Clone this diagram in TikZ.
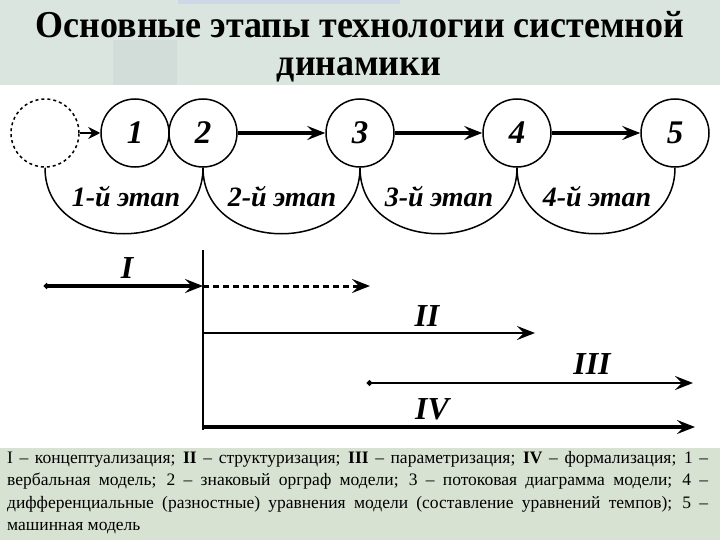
\documentclass[tikz,border=0pt]{standalone}
\usepackage{fontspec}
\setmainfont{Liberation Serif}
\usetikzlibrary{arrows.meta}
\definecolor{topbg}{RGB}{218,229,224}
\definecolor{topdark}{RGB}{210,221,218}
\definecolor{topblue}{RGB}{205,216,230}
\definecolor{botbg}{RGB}{216,226,210}
\begin{document}
\begin{tikzpicture}[x=1pt,y=-1pt,
  circ/.style={circle,draw,line width=1.5pt,minimum size=68pt,inner sep=0pt,
    font=\bfseries\itshape\fontsize{33}{33}\selectfont},
  flow/.style={line width=3.2pt,-{Stealth[length=18pt,width=14pt,inset=7pt]}},
  smallflow/.style={line width=2.4pt,-{Stealth[length=12pt,width=12pt,inset=4pt]}},
  stagelbl/.style={font=\bfseries\itshape\fontsize{28}{28}\selectfont},
  romanlbl/.style={font=\bfseries\itshape\fontsize{32}{32}\selectfont},
  stagearc/.style={line width=1.5pt},
  tail/.style={{Circle[length=5pt]}-{Stealth[length=18pt,width=14pt,inset=7pt]}},
  titlefont/.style={font=\bfseries\fontsize{38}{38}\selectfont}
]
\useasboundingbox (0,0) rectangle (720,540);
% background
\fill[topbg] (0,0) rectangle (720,85);
\fill[topdark] (113,40) rectangle (177,85);
\fill[topblue] (178,0) rectangle (400,4);
\fill[white] (0,85) rectangle (720,448);
\fill[botbg] (0,448) rectangle (720,540);

% title
\node[titlefont,anchor=base] (t1) at (360,38) {\scalebox{0.947}[1]{Основные этапы технологии системной}};
\node[titlefont,anchor=base] (t2) at (359,76) {\scalebox{0.947}[1]{динамики}};

% circles
\node[circ,dashed] (c0) at (45,133) {};
\node[circ] (c1) at (135,133) {1};
\node[circ] (c2) at (203,133) {2};
\node[circ] (c3) at (360,133) {3};
\node[circ] (c4) at (517,133) {4};
\node[circ] (c5) at (675,133) {5};

\draw[smallflow] (c0) -- (c1);
\draw[flow] (c2) -- (c3);
\draw[flow] (c3) -- (c4);
\draw[flow] (c4) -- (c5);

% stage arcs
\draw[stagearc] (c0.south) .. controls +(0,88) and +(0,88) .. (c2.south);
\draw[stagearc] (c2.south) .. controls +(0,88) and +(0,88) .. (c3.south);
\draw[stagearc] (c3.south) .. controls +(0,88) and +(0,88) .. (c4.south);
\draw[stagearc] (c4.south) .. controls +(0,88) and +(0,88) .. (c5.south);

\node[stagelbl] (l1) at (126,197) {1-й этап};
\node[stagelbl] (l2) at (282,197) {2-й этап};
\node[stagelbl] (l3) at (439,197) {3-й этап};
\node[stagelbl] (l4) at (597,197) {4-й этап};

% phases
\coordinate (vt) at (203,250);
\coordinate (vb) at (203,430);
\coordinate (iS) at (44,286);
\coordinate (iE) at (203,286);
\coordinate (dE) at (370,286);
\coordinate (iiS) at (203,333);
\coordinate (iiE) at (535,333);
\coordinate (iiiS) at (367,383);
\coordinate (iiiE) at (693,383);
\coordinate (ivS) at (203,427);
\coordinate (ivE) at (695,427);

\draw[line width=1.2pt] (vt) -- (vb);
\draw[tail,line width=3.6pt] (iS) -- (iE);
\draw[flow,line width=3pt,dash pattern=on 6pt off 4pt] (iE) -- (dE);
\draw[flow,line width=2.4pt] (iiS) -- (iiE);
\draw[tail,line width=2.6pt] (iiiS) -- (iiiE);
\draw[flow,line width=3.4pt] (ivS) -- (ivE);

\node[romanlbl] (r1) at (127,268) {I};
\node[romanlbl] (r2) at (427,316) {II};
\node[romanlbl] (r3) at (592,364) {III};
\node[romanlbl] (r4) at (432,409) {IV};

% legend
\node[anchor=north west,inner sep=0pt,text width=701pt,align=justify,
  font=\fontsize{17.5}{22.5}\selectfont] (leg) at (7,451)
{I – концептуализация; \textbf{II} – структуризация; \textbf{III} – параметризация; \textbf{IV} – формализация; 1~–\linebreak
вербальная модель; 2 – знаковый орграф модели; 3 – потоковая диаграмма модели; 4~–\linebreak
дифференциальные (разностные) уравнения модели (составление уравнений темпов); 5~–\linebreak
машинная модель};
\end{tikzpicture}
\end{document}
